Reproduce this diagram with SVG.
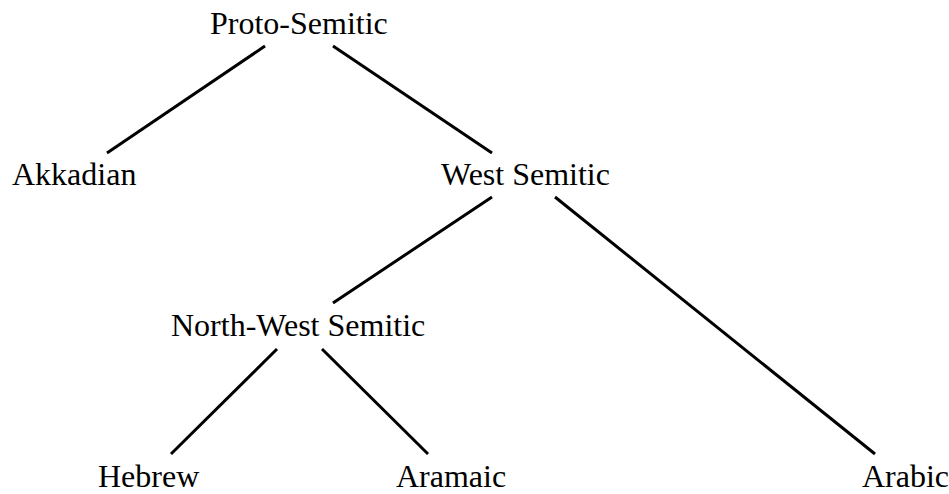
<svg xmlns="http://www.w3.org/2000/svg" width="949" height="494" viewBox="0 0 949 494">
<style>
text{font-family:"Liberation Serif","Times New Roman",serif;font-size:32px;fill:#000}
line{stroke:#000;stroke-width:3;stroke-linecap:butt}
</style>
<rect width="949" height="494" fill="#fff"/>
<g id="connectors">
<line x1="265" y1="46" x2="107" y2="153"/>
<line x1="333" y1="46" x2="492" y2="153"/>
<line x1="492" y1="197" x2="333" y2="303"/>
<line x1="555" y1="197" x2="875" y2="454"/>
<line x1="277" y1="349" x2="171" y2="454"/>
<line x1="322" y1="349" x2="428" y2="454"/>
</g>
<g id="proto-semitic"><text x="210" y="34">Proto-Semitic</text></g>
<g id="akkadian"><text x="12" y="185">Akkadian</text></g>
<g id="west-semitic"><text x="441" y="185">West Semitic</text></g>
<g id="north-west-semitic"><text x="171" y="336">North-West Semitic</text></g>
<g id="hebrew"><text x="98" y="487">Hebrew</text></g>
<g id="aramaic"><text x="396" y="487">Aramaic</text></g>
<g id="arabic"><text x="862" y="487">Arabic</text></g>
</svg>
